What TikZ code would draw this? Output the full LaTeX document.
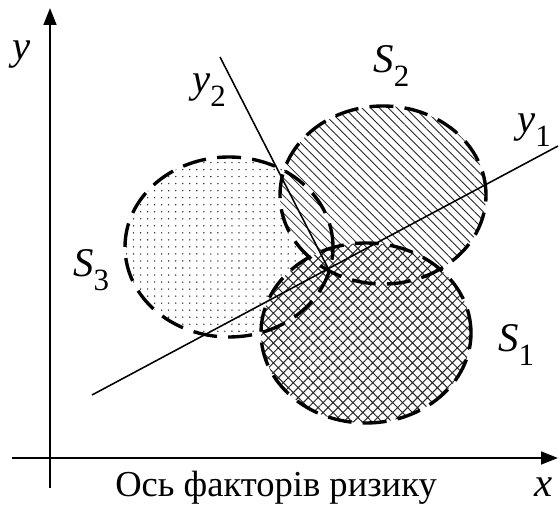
\documentclass[tikz,border=0pt]{standalone}
\usepackage{fontspec}
\setmainfont{Liberation Serif}
\usetikzlibrary{arrows.meta,patterns.meta}
% symbol with lowered index, as S_1 or y_2
\newcommand{\symidx}[2]{\textit{#1}\raisebox{-0.32em}{\fontsize{22}{22}\selectfont #2}}

\begin{document}
\begin{tikzpicture}[
    axis/.style={line width=1.6pt, -{Triangle[length=12pt, width=9pt]}},
    factor/.style={line width=1.1pt},
    border/.style={line width=2.4pt, dash pattern=on 17pt off 8pt},
    region/.style={fill=white, postaction={pattern={#1}, pattern color=black!85}},
    sym/.style={font=\fontsize{29}{32}\selectfont, anchor=base west, inner sep=0pt},
  ]
    \useasboundingbox (0,0) rectangle (14,12.675);

    % Axes
    \coordinate (xs) at (0.3,1.225);
    \coordinate (xe) at (13.95,1.225);
    \coordinate (ys) at (1.25,0.475);
    \coordinate (ye) at (1.25,12.475);
    \draw[axis] (xs) -- (xe);
    \draw[axis] (ys) -- (ye);
    \node[sym] (ylab) at (0.3,11.175) {\textit{y}};
    \node[sym] (xlab) at (13.35,0.25) {\textit{x}};
    \node[font=\fontsize{26}{30}\selectfont, anchor=base west, inner sep=0pt] (cap) at (2.875,0.25) {Ось факторів ризику};

    % Risk regions
    \coordinate (c3) at (5.725,6.5);
    \coordinate (c2) at (9.575,7.8);
    \coordinate (c1) at (9.15,4.35);
    \path[region={Dots[radius=0.55pt, distance=5pt]}] (c3) ellipse [x radius=2.6, y radius=2.25];
    \path[region={Lines[angle=-45, distance=4.4pt, line width=0.6pt]}] (c2) ellipse [x radius=2.575, y radius=2.225];
    \path[region={Hatch[angle=45, distance=5pt, line width=0.7pt]}] (c1) ellipse [x radius=2.625, y radius=2.25];

    % Factor axes
    \coordinate (a1) at (2.3,2.8);
    \coordinate (b1) at (13.95,9.025);
    \coordinate (a2) at (5.5,11.25);
    \coordinate (b2) at (8.25,5.875);
    \draw[factor] (a1) -- (b1);
    \draw[factor] (a2) -- (b2);

    % Borders
    \draw[border] (c3) ellipse [x radius=2.6, y radius=2.25];
    \draw[border] (c2) ellipse [x radius=2.575, y radius=2.225];
    \draw[border] (c1) ellipse [x radius=2.625, y radius=2.25];

    % Labels
    \node[sym] (s1lab) at (12.45,3.875) {\symidx{S}{1}};
    \node[sym] (s2lab) at (9.33,10.85) {\symidx{S}{2}};
    \node[sym] (s3lab) at (1.825,5.75) {\symidx{S}{3}};
    \node[sym] (y1lab) at (12.925,9.35) {\symidx{y}{1}};
    \node[sym] (y2lab) at (4.8,10.35) {\symidx{y}{2}};
  \end{tikzpicture}
\end{document}
